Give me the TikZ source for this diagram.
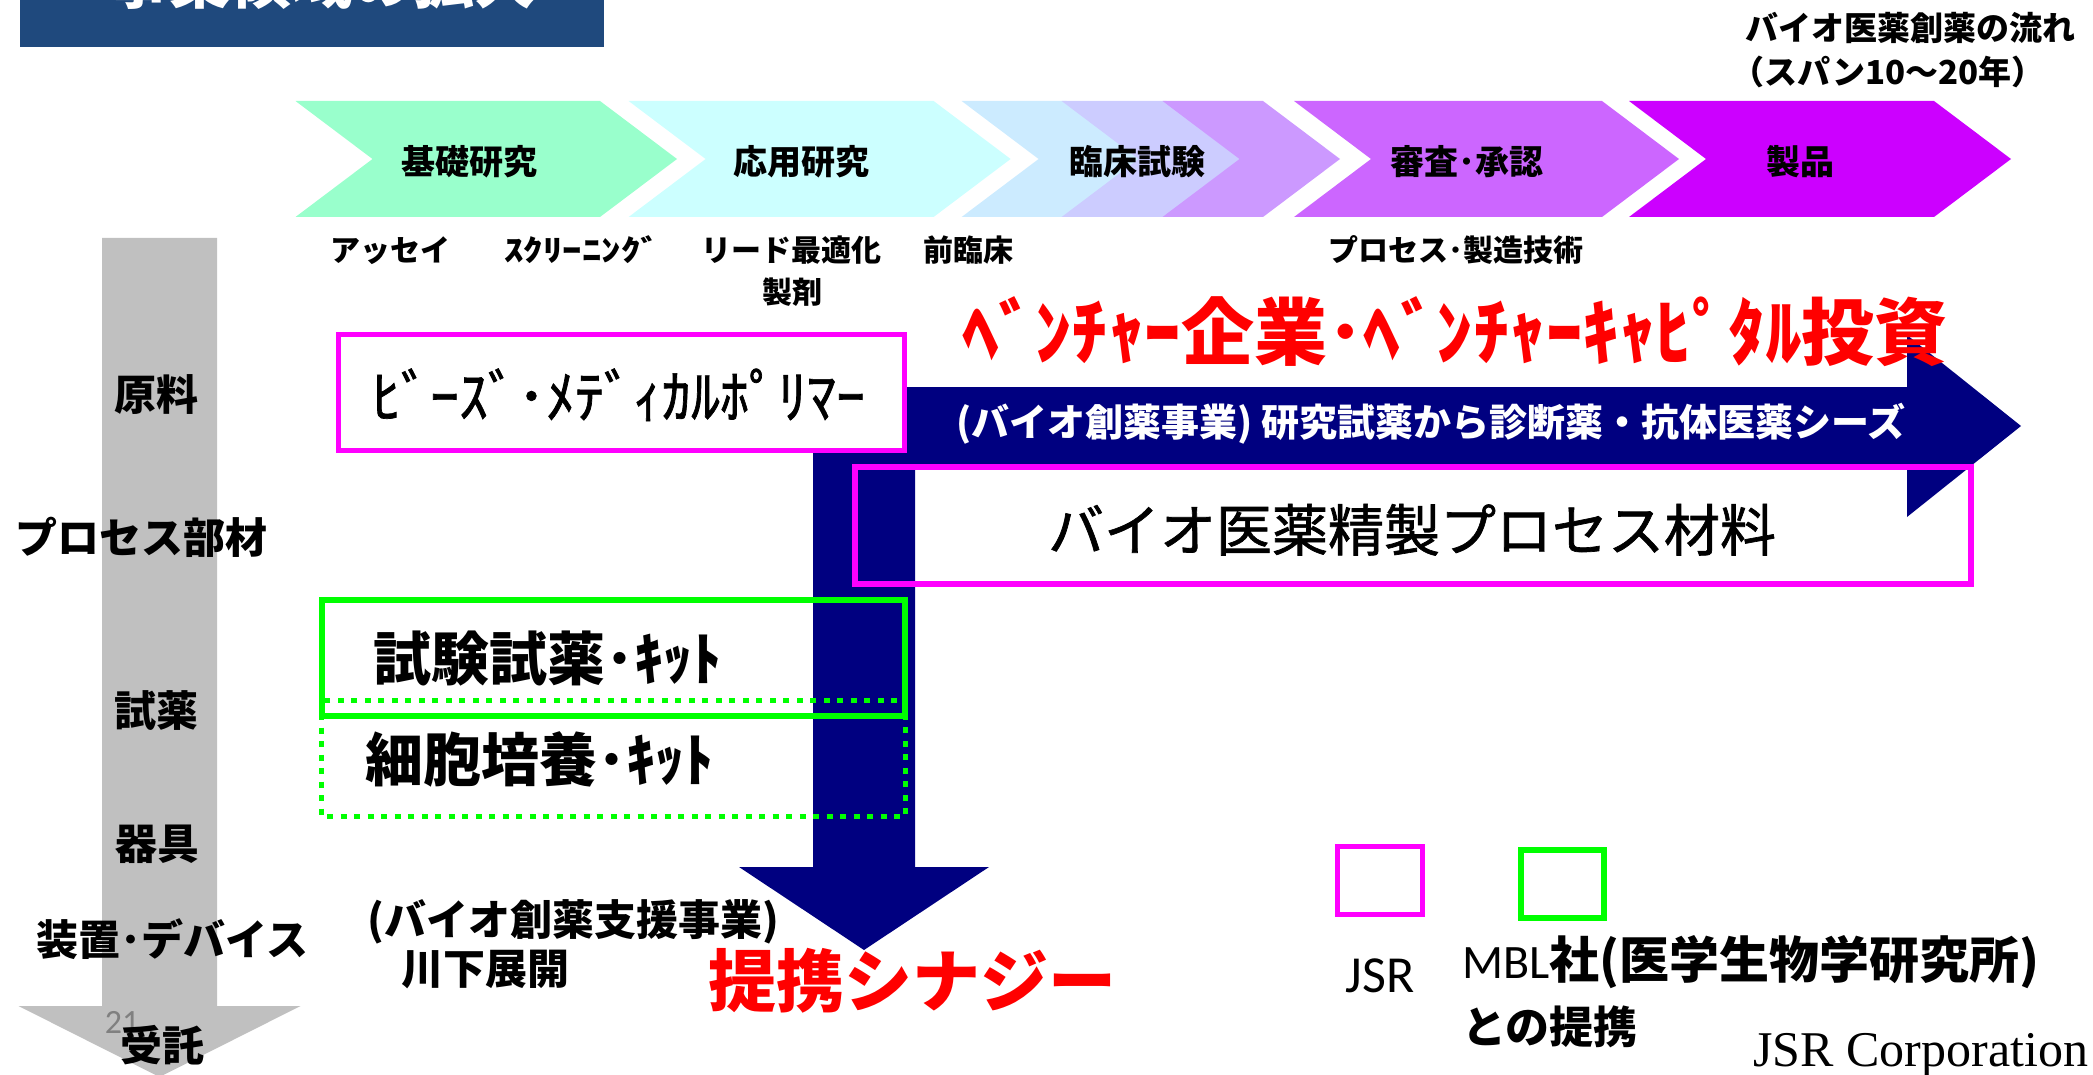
\documentclass[tikz,border=0pt]{standalone}
\usepackage{fontspec}
\usepackage{graphicx}
\newfontfamily\jp{Noto Sans CJK JP}
\newfontfamily\jpm{Noto Sans CJK JP}[FakeBold=1.2]
\newfontfamily\carlito{Carlito}
\newfontfamily\lserif{Liberation Serif}
\newcommand\fsz[1]{\fontsize{#1}{#1}\selectfont}
\definecolor{titleblue}{HTML}{1F497D}
\definecolor{navyarrow}{HTML}{000080}
\definecolor{mag}{HTML}{FF00FF}
\definecolor{grn}{HTML}{00FF00}
\definecolor{greyarrow}{HTML}{C0C0C0}
\definecolor{chA}{HTML}{99FFCC}
\definecolor{chB}{HTML}{CCFFFF}
\definecolor{chC}{HTML}{CCEBFF}
\definecolor{chD}{HTML}{CCCCFF}
\definecolor{chE}{HTML}{CC99FF}
\definecolor{chF}{HTML}{CC66FF}
\definecolor{chG}{HTML}{CC00FF}
\newcommand\chev[3]{\fill[#1] (#2,101) -- ++(#3,0) -- ++(77,58) -- ++(-77,58) -- ++(-#3,0) -- ++(77,-58) -- cycle;}
\begin{document}
\begin{tikzpicture}[x=0.5pt,y=-0.5pt,
  txt/.style={inner sep=0pt, anchor=base},
  chevtxt/.style={txt, font=\jp\bfseries\fsz{17pt}},
  subtxt/.style={txt, font=\jp\bfseries\fsz{15pt}},
  sidetxt/.style={txt, font=\jp\bfseries\fsz{21pt}},
  pinkbox/.style={draw=mag, line width=2.6pt},
  greenbox/.style={draw=grn, line width=3pt},
  greendots/.style={draw=grn, line width=2.5pt, dash pattern=on 3pt off 3.75pt}]
\useasboundingbox (0,0) rectangle (2093,1075);
% title bar
\fill[titleblue] (20,0) rectangle (604,47);
\begin{scope}
\clip (20,0) rectangle (604,47);
\node[txt, text=white, font=\jp\bfseries\fsz{30.5pt}] (title) at (322,4) {事業領域の拡大};
\end{scope}
% chevrons
\chev{chA}{295.5}{304.5}
\chev{chB}{628.6}{305}
\chev{chC}{961.6}{105}
\chev{chD}{1061.6}{105}
\chev{chE}{1162.5}{100.5}
\chev{chF}{1294}{308}
\chev{chG}{1629}{305}
\node[chevtxt] (kiso) at (469,175) {基礎研究};
\node[chevtxt] (oyo) at (801,175) {応用研究};
\node[chevtxt] (rinsho) at (1137,175) {臨床試験};
\node[chevtxt] (shinsa) at (1467,175) {審査･承認};
\node[chevtxt] (seihin) at (1800,175) {製品};
% top right caption
\node[txt, font=\jp\bfseries\fsz{16.5pt}] (flow1) at (1910,41) {バイオ医薬創薬の流れ};
\node[txt, font=\jp\bfseries\fsz{16.5pt}] (flow2) at (1888,84.5) {（スパン10〜20年）};
% sub labels
\node[subtxt] (assay) at (390.6,262) {アッセイ};
\node[subtxt] (screen) at (582,262) {\scalebox{1.3}[1]{ｽｸﾘｰﾆﾝｸﾞ}};
\node[subtxt] (lead) at (791.5,262) {リード最適化};
\node[subtxt] (seizai) at (792.5,303) {製剤};
\node[subtxt] (zenrin) at (968,262) {前臨床};
\node[subtxt] (process) at (1455.5,262) {プロセス･製造技術};
% grey arrow
\fill[greyarrow] (102,238) -- (217,238) -- (217,1006) -- (300.5,1006) -- (159.5,1077) -- (18.5,1006) -- (102,1006) -- cycle;
% pink box 2 fill
\fill[white] (855,467) rectangle (1971,584);
% navy arrow
\fill[navyarrow] (813,387) -- (1907,387) -- (1907,335) -- (2021,426) -- (1907,517) -- (1907,465)
  -- (915,465) -- (915,867) -- (989,867) -- (864,950) -- (739,867) -- (813,867) -- cycle;
% pink box 2 border
\draw[pinkbox, line width=3pt] (855,467) rectangle (1971,584);
% pink box 1
\draw[pinkbox, fill=white] (338.5,334.5) rectangle (904.5,450.5);
% green boxes
\draw[greenbox] (322,600) rectangle (905,716);
\draw[greendots] (321.5,700.5) rectangle (905,816.5);
% side labels
\node[sidetxt] (genryo) at (156.5,410) {原料};
\node[sidetxt] (buzai) at (142,553) {プロセス部材};
\node[sidetxt] (shiyaku) at (156.5,726) {試薬};
\node[sidetxt] (kigu) at (157,859) {器具};
\node[sidetxt] (sochi) at (172.5,955) {装置･デバイス};
\node[txt, text=gray, font=\carlito\fsz{17pt}] (pagenum) at (122,1033) {21};
\node[sidetxt] (jutaku) at (162.5,1061) {受託};
% box texts
\node[txt, font=\jpm\fsz{29pt}] (beads) at (618.5,418) {ﾋﾞｰｽﾞ･ﾒﾃﾞｨｶﾙﾎﾟﾘﾏｰ};
\node[txt, font=\jpm\fsz{28pt}] (bioproc) at (1412,551) {バイオ医薬精製プロセス材料};
\node[txt, font=\jp\bfseries\fsz{29pt}] (kit1) at (547.5,680) {試験試薬･ｷｯﾄ};
\node[txt, font=\jp\bfseries\fsz{29pt}] (kit2) at (539,781) {細胞培養･ｷｯﾄ};
\node[txt, text=white, font=\jp\bfseries\fsz{19pt}] (arrowtxt) at (1431,436) {(バイオ創薬事業) 研究試薬から診断薬・抗体医薬シーズ};
\node[txt, text=red, font=\jp\bfseries\fsz{36.5pt}] (venture) at (1455,359) {ﾍﾞﾝﾁｬｰ企業･ﾍﾞﾝﾁｬｰｷｬﾋﾟﾀﾙ投資};
\node[txt, text=red, font=\jp\bfseries\fsz{34pt}] (synergy) at (912,1006) {提携シナジー};
\node[txt, font=\jp\bfseries\fsz{21pt}] (support1) at (573.5,935.5) {(バイオ創薬支援事業)};
\node[txt, font=\jp\bfseries\fsz{21pt}] (support2) at (485.5,984.5) {川下展開};
% legend
\draw[pinkbox] (1337.5,846.5) rectangle (1422.5,914.5);
\draw[greenbox] (1521,850) rectangle (1604,918);
\node[txt, font=\carlito\fsz{26pt}] (jsr) at (1380,992) {JSR};
\node[txt, anchor=base west] (mbl) at (1462,978) {{\carlito\fsz{24pt}MBL}{\jp\bfseries\fsz{25pt}社(医学生物学研究所)}};
\node[txt, anchor=base west, font=\jp\bfseries\fsz{22pt}] (teikei) at (1462,1043) {との提携};
\node[txt, anchor=base west, font=\lserif\fsz{25pt}] (corp) at (1753,1066) {JSR Corporation};
\end{tikzpicture}
\end{document}
